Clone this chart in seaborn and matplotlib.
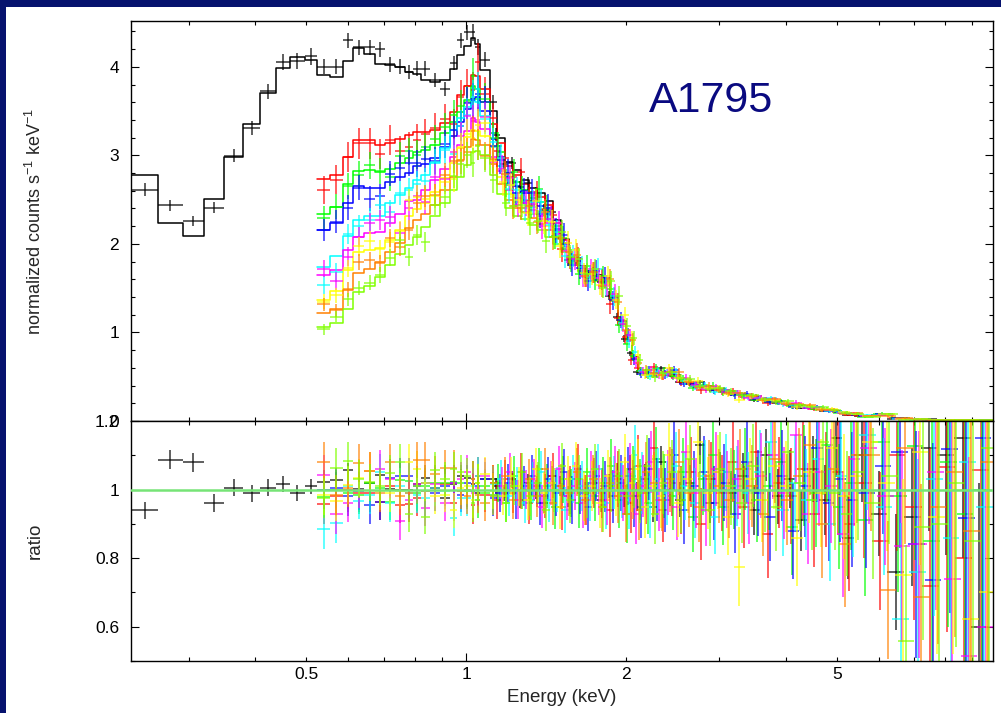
import numpy as np
import pandas as pd
import matplotlib
matplotlib.use("Agg")
import matplotlib.pyplot as plt
import seaborn as sns
from matplotlib.patches import Rectangle
from matplotlib.ticker import FixedLocator, FixedFormatter, NullFormatter, MultipleLocator

# ---- bin edges (keV) ----
# soft bins only used by the black data set
edges_soft = [0.2337, 0.2630, 0.2924, 0.3212, 0.3503, 0.3805, 0.4090, 0.4378, 0.4659, 0.4972]
# bins shared by all data sets
edges = [0.5245, 0.5542, 0.5855, 0.6132, 0.6424, 0.6738, 0.7037, 0.7349, 0.7674, 0.7956,
         0.8215, 0.8555, 0.8934, 0.9328, 0.9630, 0.9914, 1.0207, 1.0399, 1.0627, 1.1096, 1.1427,
         1.1834, 1.2256, 1.2689, 1.3143, 1.3614, 1.4101, 1.4605, 1.5121, 1.5662, 1.6222,
         1.6803, 1.7404, 1.8021, 1.8664, 1.9332, 2.0024,
         2.0556, 2.1098, 2.1840, 2.2617, 2.3417, 2.4341, 2.5311, 2.6436, 2.7608, 2.8836,
         3.0117, 3.1586, 3.3128,
         3.4848, 3.6665, 3.8587, 4.0595, 4.2701, 4.4924, 4.7255, 4.9720, 5.2311, 5.5042,
         5.918, 6.363, 6.842, 7.356, 7.907, 8.503, 9.141, 9.829]

# ---- folded model (normalized counts s^-1 keV^-1) ----
black_model = [2.78, 2.24, 2.09, 2.51, 2.98, 3.35, 3.70, 3.99, 4.11, 4.08,
               3.91, 3.89, 4.07, 4.21, 4.14, 4.03, 4.02, 4.00, 3.94, 3.92, 3.85, 3.83, 3.85, 3.98, 4.13, 4.24, 4.32, 4.26, 3.96, 3.50,
               3.20, 2.93, 2.83, 2.72, 2.63, 2.57, 2.48, 2.27, 2.05, 1.85, 1.75, 1.69, 1.65, 1.62, 1.40, 1.13,
               0.94, 0.72, 0.56, 0.54, 0.54, 0.55, 0.52, 0.45, 0.41, 0.39, 0.36, 0.34, 0.31,
               0.28, 0.25, 0.23, 0.205, 0.185, 0.16, 0.14, 0.12, 0.10, 0.08,
               0.055, 0.075, 0.03, 0.022, 0.016, 0.013, 0.010, 0.008]
red_model = [2.73, 2.78, 2.98, 3.17, 3.17, 3.12, 3.14, 3.19, 3.23, 3.26, 3.26, 3.29, 3.36, 3.49, 3.68, 3.78, 3.91, 3.90, 3.75, 3.35,
             3.14, 2.88, 2.78, 2.68, 2.59, 2.53, 2.44, 2.24, 2.04, 1.84, 1.74, 1.68, 1.64, 1.61, 1.40, 1.13,
             0.94, 0.72, 0.56, 0.54, 0.54, 0.55, 0.52, 0.45, 0.41, 0.39, 0.36, 0.34, 0.31,
             0.28, 0.25, 0.23, 0.205, 0.185, 0.16, 0.14, 0.12, 0.10, 0.08,
             0.055, 0.075, 0.03, 0.022, 0.016, 0.013, 0.010, 0.008]
green_model = [2.34, 2.42, 2.68, 2.82, 2.83, 2.81, 2.85, 2.91, 2.97, 3.04, 3.06, 3.12, 3.25, 3.38, 3.49, 3.62, 3.78, 3.75, 3.60, 3.25,
               3.04, 2.80, 2.70, 2.61, 2.52, 2.47, 2.38, 2.20, 2.01, 1.83, 1.73, 1.67, 1.63, 1.60, 1.39, 1.12,
               0.93, 0.71, 0.56, 0.54, 0.54, 0.55, 0.52, 0.45, 0.41, 0.39, 0.36, 0.34, 0.31,
               0.28, 0.25, 0.23, 0.205, 0.185, 0.16, 0.14, 0.12, 0.10, 0.08,
               0.054, 0.074, 0.03, 0.022, 0.016, 0.013, 0.010, 0.008]
blue_model = [2.16, 2.24, 2.46, 2.65, 2.63, 2.63, 2.70, 2.75, 2.80, 2.88, 2.90, 2.97, 3.10, 3.22, 3.38, 3.52, 3.64, 3.66, 3.50, 3.18,
              2.98, 2.75, 2.65, 2.57, 2.48, 2.43, 2.34, 2.17, 2.00, 1.82, 1.73, 1.67, 1.63, 1.60, 1.39, 1.12,
              0.93, 0.71, 0.56, 0.54, 0.54, 0.54, 0.52, 0.45, 0.41, 0.38, 0.36, 0.34, 0.31,
              0.28, 0.25, 0.23, 0.20, 0.185, 0.16, 0.14, 0.12, 0.10, 0.08,
              0.054, 0.074, 0.03, 0.022, 0.016, 0.013, 0.010, 0.008]
cyan_model = [1.74, 1.86, 2.09, 2.27, 2.31, 2.32, 2.46, 2.55, 2.63, 2.72, 2.78, 2.91, 3.08, 3.29, 3.42, 3.55, 3.62, 3.60, 3.45, 3.10,
              2.88, 2.67, 2.58, 2.50, 2.42, 2.36, 2.28, 2.13, 1.98, 1.81, 1.72, 1.66, 1.62, 1.59, 1.38, 1.11,
              0.93, 0.71, 0.55, 0.54, 0.54, 0.54, 0.51, 0.45, 0.41, 0.38, 0.36, 0.33, 0.31,
              0.275, 0.25, 0.225, 0.20, 0.18, 0.16, 0.14, 0.12, 0.10, 0.08,
              0.054, 0.074, 0.03, 0.022, 0.016, 0.013, 0.010, 0.008]
magenta_model = [1.65, 1.70, 1.93, 2.08, 2.12, 2.14, 2.24, 2.34, 2.48, 2.50, 2.61, 2.72, 2.85, 2.98, 3.12, 3.28, 3.42, 3.38, 3.30, 2.98,
                 2.82, 2.61, 2.52, 2.46, 2.38, 2.32, 2.24, 2.11, 1.96, 1.81, 1.71, 1.65, 1.61, 1.58, 1.37, 1.11,
                 0.92, 0.71, 0.55, 0.53, 0.54, 0.54, 0.51, 0.44, 0.41, 0.38, 0.36, 0.33, 0.31,
                 0.275, 0.25, 0.225, 0.20, 0.18, 0.16, 0.14, 0.12, 0.10, 0.08,
                 0.053, 0.073, 0.03, 0.022, 0.016, 0.013, 0.010, 0.008]
yellow_model = [1.37, 1.47, 1.70, 1.91, 1.93, 1.95, 2.04, 2.16, 2.31, 2.39, 2.46, 2.59, 2.74, 2.91, 3.08, 3.21, 3.29, 3.28, 3.22, 2.95,
                2.75, 2.56, 2.47, 2.42, 2.34, 2.28, 2.20, 2.08, 1.95, 1.80, 1.70, 1.64, 1.60, 1.57, 1.37, 1.11,
                0.92, 0.70, 0.55, 0.53, 0.53, 0.54, 0.51, 0.44, 0.40, 0.38, 0.35, 0.33, 0.30,
                0.275, 0.25, 0.225, 0.20, 0.18, 0.16, 0.14, 0.12, 0.10, 0.08,
                0.053, 0.073, 0.03, 0.022, 0.016, 0.013, 0.010, 0.008]
orange_model = [1.22, 1.27, 1.48, 1.67, 1.72, 1.80, 1.91, 2.01, 2.18, 2.27, 2.34, 2.44, 2.61, 2.76, 2.95, 3.10, 3.18, 3.17, 3.12, 2.90,
                2.68, 2.50, 2.41, 2.36, 2.29, 2.23, 2.16, 2.05, 1.93, 1.79, 1.69, 1.63, 1.60, 1.57, 1.37, 1.10,
                0.92, 0.70, 0.55, 0.53, 0.53, 0.54, 0.51, 0.44, 0.40, 0.38, 0.35, 0.33, 0.30,
                0.275, 0.25, 0.225, 0.20, 0.18, 0.16, 0.14, 0.12, 0.10, 0.08,
                0.053, 0.073, 0.03, 0.022, 0.016, 0.013, 0.010, 0.008]
lime_model = [1.06, 1.11, 1.27, 1.46, 1.53, 1.63, 1.76, 1.89, 1.99, 2.08, 2.19, 2.31, 2.46, 2.61, 2.76, 2.89, 3.04, 3.05, 3.00, 2.78,
              2.56, 2.40, 2.32, 2.28, 2.21, 2.16, 2.08, 2.00, 1.91, 1.78, 1.68, 1.62, 1.58, 1.56, 1.36, 1.10,
              0.91, 0.70, 0.54, 0.53, 0.53, 0.53, 0.50, 0.44, 0.40, 0.38, 0.35, 0.33, 0.30,
              0.27, 0.245, 0.22, 0.20, 0.18, 0.16, 0.14, 0.12, 0.10, 0.08,
              0.052, 0.072, 0.03, 0.022, 0.016, 0.013, 0.010, 0.008]

# ---- data / model ratio ----
black_ratio = [0.94, 1.087, 1.08, 0.96, 1.006, 0.989, 1.006, 1.016, 0.989, 1.009,
               1.023, 1.028, 1.057, 1.002, 1.019, 1.042, 1.002, 1.000, 1.000, 1.015, 1.034, 1.005, 0.974, 1.015, 1.041, 1.035, 1.016, 0.991, 1.030, 1.030,
               1.01, 0.99, 1.03, 0.97, 1.02, 1.00, 0.96, 1.04, 1.01, 0.98, 1.03, 0.99, 1.02, 0.97, 1.01, 1.04,
               0.99, 1.06, 0.98, 1.03, 0.95, 1.08, 1.00, 0.97, 1.02, 1.13, 0.96, 1.05, 0.99,
               1.04, 0.94, 1.10, 0.98, 1.03, 0.91, 1.06, 0.97, 1.15, 0.86,
               1.10, 0.93, 0.76, 0.92, 1.12, 1.10, 1.15, 0.60]
red_ratio = [0.957, 0.98, 1.00, 0.99, 0.99, 0.965, 1.01, 0.955, 0.957, 0.975, 0.995, 1.005, 1.015, 0.96, 0.995, 1.00, 0.955, 1.04, 0.985, 1.02,
             0.97, 1.03, 0.99, 1.05, 0.96, 1.01, 0.98, 1.04, 0.95, 1.00, 1.06, 0.97, 1.02, 0.99, 0.94, 1.03,
             1.01, 0.96, 1.07, 0.99, 1.12, 0.94, 1.02, 0.97, 1.05, 0.90, 1.03, 0.99, 1.08,
             0.95, 1.11, 0.87, 1.02, 0.98, 1.06, 0.93, 1.00, 1.05, 0.90,
             1.02, 0.85, 1.10, 0.95, 0.72, 1.065, 0.80, 1.057]
green_ratio = [0.978, 1.00, 0.99, 0.985, 1.02, 1.005, 0.965, 1.028, 1.025, 0.99, 1.01, 1.02, 1.02, 1.022, 1.02, 0.995, 1.03, 0.97, 1.01, 0.985,
               1.02, 0.96, 1.04, 1.00, 0.97, 1.06, 1.01, 0.95, 1.03, 0.99, 0.96, 1.05, 0.98, 1.02, 1.07, 0.97,
               0.93, 1.04, 1.00, 0.96, 1.09, 1.01, 0.98, 1.05, 0.92, 1.03, 1.10, 0.95, 1.00,
               1.06, 0.97, 1.01, 1.08, 0.89, 1.04, 0.99, 1.13, 0.95, 1.02,
               0.91, 1.14, 0.98, 1.126, 0.85, 1.08, 0.93, 1.00]
blue_ratio = [1.00, 1.005, 0.98, 0.995, 0.955, 0.965, 1.035, 1.04, 1.04, 1.01, 1.02, 0.99, 1.01, 1.02, 0.985, 1.02, 0.995, 1.01, 1.03, 0.975,
              0.99, 1.02, 0.97, 1.01, 1.04, 0.96, 1.03, 0.99, 1.05, 0.97, 1.00, 0.95, 1.04, 1.01, 0.98, 1.02,
              1.04, 0.98, 0.95, 1.06, 1.00, 0.97, 1.10, 0.94, 1.01, 1.05, 0.96, 1.02, 0.93,
              1.08, 0.99, 0.92, 1.04, 0.88, 1.01, 1.12, 0.96, 1.03, 0.97,
              0.99, 1.07, 1.11, 0.84, 0.737, 1.119, 0.918, 1.15]
cyan_ratio = [0.885, 0.902, 1.01, 0.968, 0.985, 1.05, 0.96, 1.01, 0.99, 0.985, 0.975, 1.005, 0.995, 0.917, 0.975, 0.975, 1.01, 1.04, 0.99, 1.015,
              1.03, 0.98, 1.01, 0.96, 1.02, 1.05, 0.97, 1.00, 0.94, 1.03, 1.01, 0.98, 1.06, 0.96, 1.02, 1.00,
              0.97, 1.10, 1.02, 0.95, 1.03, 0.99, 1.07, 1.01, 0.96, 1.04, 0.92, 1.05, 1.01,
              0.99, 1.05, 1.14, 0.94, 1.02, 0.97, 1.09, 0.90, 1.04, 1.00,
              1.16, 0.95, 0.622, 0.76, 1.03, 0.86, 1.08, 0.95]
magenta_ratio = [1.043, 0.929, 0.962, 1.00, 1.055, 1.06, 1.03, 0.907, 0.97, 1.015, 0.947, 1.015, 0.96, 1.02, 1.03, 1.05, 0.99, 1.005, 1.04, 0.98,
                 1.01, 1.05, 0.97, 1.00, 1.03, 0.95, 1.02, 1.06, 0.98, 1.01, 0.96, 1.04, 1.00, 0.97, 1.05, 0.99,
                 1.05, 0.93, 1.01, 1.08, 0.97, 1.02, 0.95, 1.11, 0.99, 0.94, 1.06, 1.00, 1.03,
                 0.96, 1.04, 1.10, 0.99, 1.16, 0.93, 1.05, 1.01, 0.87, 1.09,
                 1.12, 0.98, 0.836, 0.84, 1.05, 0.738, 0.514, 0.60]
yellow_ratio = [0.985, 0.967, 1.014, 1.033, 1.055, 0.995, 0.99, 0.995, 1.08, 1.06, 1.02, 0.98, 0.985, 0.939, 1.005, 1.01, 0.97, 1.02, 1.045, 0.995,
                0.98, 1.04, 1.01, 0.97, 1.06, 0.99, 1.02, 0.95, 1.03, 1.07, 0.98, 1.01, 0.96, 1.04, 1.00, 1.08,
                1.02, 1.06, 0.95, 1.01, 0.98, 1.10, 0.96, 1.03, 1.14, 0.99, 1.05, 0.92, 0.775,
                1.03, 0.97, 1.07, 1.01, 0.86, 1.05, 0.99, 1.12, 0.98, 1.04,
                1.14, 1.02, 0.75, 1.11, 0.92, 1.00, 0.622, 0.70]
orange_ratio = [1.08, 0.985, 1.004, 1.077, 1.055, 0.99, 1.08, 0.98, 0.99, 1.087, 1.087, 1.045, 1.064, 1.064, 0.995, 0.98, 1.03, 0.985, 0.96, 1.02,
                1.04, 0.97, 1.00, 1.03, 0.98, 1.06, 0.96, 1.01, 0.99, 1.05, 0.97, 1.03, 0.95, 1.02, 0.98, 0.93,
                1.00, 0.94, 1.05, 1.02, 0.97, 1.03, 1.08, 0.99, 0.95, 1.04, 1.01, 0.97, 1.06,
                1.01, 0.93, 1.09, 0.97, 1.04, 1.13, 0.90, 1.06, 0.84, 1.10,
                1.10, 0.707, 1.12, 0.687, 0.95, 1.05, 0.88, 1.08]
lime_ratio = [0.975, 1.062, 1.082, 1.03, 1.021, 1.01, 1.048, 1.08, 0.93, 1.01, 0.921, 1.058, 1.03, 1.06, 1.05, 1.04, 0.96, 1.02, 0.99, 0.98,
              0.96, 1.01, 1.05, 0.98, 1.02, 0.94, 1.00, 1.07, 0.97, 1.03, 0.99, 1.06, 0.95, 1.01, 1.04, 0.98,
              1.03, 0.99, 1.07, 0.93, 1.02, 1.05, 0.97, 1.09, 1.00, 0.94, 1.06, 1.01, 0.96,
              1.07, 1.00, 0.95, 1.11, 1.02, 0.97, 1.14, 0.99, 0.93, 1.05,
              0.96, 1.04, 0.558, 0.89, 0.90, 1.02, 0.85, 1.12]

# ---- 1-sigma errors on the ratio ----
black_err = [0.025, 0.028, 0.028, 0.026, 0.025, 0.024, 0.024, 0.023, 0.023, 0.023,
             0.022, 0.022, 0.021, 0.021, 0.021, 0.021, 0.021, 0.021, 0.021, 0.021, 0.021, 0.021, 0.021, 0.020, 0.020, 0.020, 0.022, 0.022, 0.021, 0.022,
             0.023, 0.024, 0.024, 0.025, 0.026, 0.027, 0.028, 0.029, 0.030, 0.031, 0.032, 0.032, 0.033, 0.034, 0.036, 0.038,
             0.040, 0.042, 0.043, 0.044, 0.045, 0.047, 0.049, 0.051, 0.053, 0.055, 0.058, 0.061, 0.064,
             0.068, 0.072, 0.076, 0.080, 0.085, 0.090, 0.096, 0.103, 0.112, 0.122,
             0.135, 0.125, 0.17, 0.20, 0.24, 0.29, 0.35, 0.42]
ratio_err = [0.058, 0.058, 0.056, 0.055, 0.055, 0.054, 0.054, 0.053, 0.053, 0.053, 0.052, 0.052, 0.051, 0.051, 0.051, 0.051, 0.054, 0.054, 0.051, 0.053,
             0.055, 0.056, 0.057, 0.058, 0.060, 0.062, 0.064, 0.066, 0.068, 0.070, 0.072, 0.072, 0.073, 0.074, 0.078, 0.082,
             0.085, 0.088, 0.090, 0.090, 0.092, 0.094, 0.097, 0.099, 0.102, 0.105, 0.108, 0.112, 0.116,
             0.120, 0.124, 0.128, 0.133, 0.140, 0.147, 0.157, 0.167, 0.182, 0.197,
             0.22, 0.20, 0.28, 0.33, 0.40, 0.48, 0.58, 0.70]

order = ["black", "red", "green", "blue", "cyan", "magenta", "yellow", "orange", "lime"]
palette = {"black": "#000000", "red": "#ff0000", "green": "#00ff00", "blue": "#0000ff",
           "cyan": "#00ffff", "magenta": "#ff00ff", "yellow": "#ffff00", "orange": "#ff8000",
           "lime": "#80ff00"}

series = {
    "black": (edges_soft + edges, black_model, black_ratio, black_err),
    "red": (edges, red_model, red_ratio, ratio_err),
    "green": (edges, green_model, green_ratio, ratio_err),
    "blue": (edges, blue_model, blue_ratio, ratio_err),
    "cyan": (edges, cyan_model, cyan_ratio, ratio_err),
    "magenta": (edges, magenta_model, magenta_ratio, ratio_err),
    "yellow": (edges, yellow_model, yellow_ratio, ratio_err),
    "orange": (edges, orange_model, orange_ratio, ratio_err),
    "lime": (edges, lime_model, lime_ratio, ratio_err),
}

# long table of step vertices for the model histograms
rows = []
for name in order:
    ed, mod, rat, err = series[name]
    for x, y in zip(ed, mod + [mod[-1]]):
        rows.append((name, x, y))
steps = pd.DataFrame(rows, columns=["series", "energy", "model"])

# ---- style ----
sns.set_theme(style="ticks")
plt.rcParams["font.family"] = ["Liberation Sans", "DejaVu Sans"]
plt.rcParams["mathtext.fontset"] = "custom"
plt.rcParams["mathtext.rm"] = "Liberation Sans"
plt.rcParams["mathtext.it"] = "Liberation Sans:italic"
plt.rcParams["mathtext.bf"] = "Liberation Sans:bold"

W, H = 1001, 713
navy = "#06126e"
fig = plt.figure(figsize=(W / 100, H / 100), dpi=100, facecolor=navy)
fig.add_artist(Rectangle((6 / W, 0), 1, (H - 7) / H, transform=fig.transFigure,
                         facecolor="white", edgecolor="none", zorder=-10))

x0, x1 = 131, 992.7
ax_top = fig.add_axes([x0 / W, (H - 421) / H, (x1 - x0) / W, (421 - 21.3) / H])
ax_bot = fig.add_axes([x0 / W, (H - 661) / H, (x1 - x0) / W, (661 - 421) / H])

for ax in (ax_top, ax_bot):
    ax.set_xscale("log")
    ax.set_facecolor("white")

# model steps
sns.lineplot(data=steps, x="energy", y="model", hue="series", hue_order=order,
             palette=palette, estimator=None, sort=False, drawstyle="steps-post",
             linewidth=1.1, legend=False, ax=ax_top)

# data crosses (top) and ratio crosses (bottom)
for j, name in enumerate(order):
    ed, mod, rat, err = series[name]
    lo = np.array(ed[:-1])
    hi = np.array(ed[1:])
    mod = np.array(mod)
    rat = np.array(rat)
    err = np.array(err)
    # small dodge where the groupings of the data sets interleave
    shift = np.where(np.sqrt(lo * hi) > 1.14, 10 ** ((j - 4) * 0.0024), 1.0)
    lo, hi = lo * shift, hi * shift
    xc = np.sqrt(lo * hi)
    kw = dict(fmt="none", ecolor=palette[name], elinewidth=1.25, alpha=0.7, capsize=0)
    ax_top.errorbar(xc, mod * rat, xerr=[xc - lo, hi - xc], yerr=mod * err, **kw)
    ax_bot.errorbar(xc, rat, xerr=[xc - lo, hi - xc], yerr=err, **kw)

ax_bot.axhline(1.0, color="#76e476", linewidth=1.8, zorder=3)

# ---- axes ----
minor_e = [0.3, 0.4, 0.5, 0.6, 0.7, 0.8, 0.9, 2, 3, 4, 5, 6, 7, 8, 9]
minor_lbl = ["", "", "0.5", "", "", "", "", "2", "", "", "5", "", "", "", ""]

for ax in (ax_top, ax_bot):
    ax.set_xlim(0.2337, 9.829)
    ax.xaxis.set_major_locator(FixedLocator([1]))
    ax.xaxis.set_minor_locator(FixedLocator(minor_e))
    ax.tick_params(which="both", direction="in", top=True, right=True, width=0.8,
                   color="black", labelsize=12.5, labelcolor="black")
    ax.tick_params(which="major", length=5.8)
    ax.tick_params(which="minor", length=2.9)
    ax.tick_params(axis="x", which="both", pad=4.5)
    ax.tick_params(axis="y", which="both", pad=8.5)
    ax.set_xlabel("")
    ax.set_ylabel("")
    for s in ax.spines.values():
        s.set_linewidth(1.0)
        s.set_color("black")

ax_top.xaxis.set_major_formatter(NullFormatter())
ax_top.xaxis.set_minor_formatter(NullFormatter())
ax_bot.xaxis.set_major_formatter(FixedFormatter(["1"]))
ax_bot.xaxis.set_minor_formatter(FixedFormatter(minor_lbl))

ax_top.set_ylim(0, 4.514)
ax_top.yaxis.set_major_locator(FixedLocator([0, 1, 2, 3, 4]))
ax_top.yaxis.set_major_formatter(FixedFormatter(["0", "1", "2", "3", "4"]))
ax_top.yaxis.set_minor_locator(MultipleLocator(0.2))

ax_bot.set_ylim(0.5, 1.2)
ax_bot.yaxis.set_major_locator(FixedLocator([0.6, 0.8, 1.0, 1.2]))
ax_bot.yaxis.set_major_formatter(FixedFormatter(["0.6", "0.8", "1", "1.2"]))
ax_bot.yaxis.set_minor_locator(MultipleLocator(0.1))

# labels
fig.text(35 / W, 1 - 221 / H, "normalized counts s$^{-1}$ keV$^{-1}$", rotation=90,
         ha="center", va="center", fontsize=13)
fig.text(35 / W, 1 - 541 / H, "ratio", rotation=90, ha="center", va="center", fontsize=13.5)
fig.text(562 / W, 1 - 698 / H, "Energy (keV)", ha="center", va="center", fontsize=13.5)
fig.text(649 / W, 1 - 111.7 / H, "A1795", ha="left", va="baseline", fontsize=31,
         color="#0a0a80")

fig.savefig("out.png", dpi=100, facecolor=fig.get_facecolor())
